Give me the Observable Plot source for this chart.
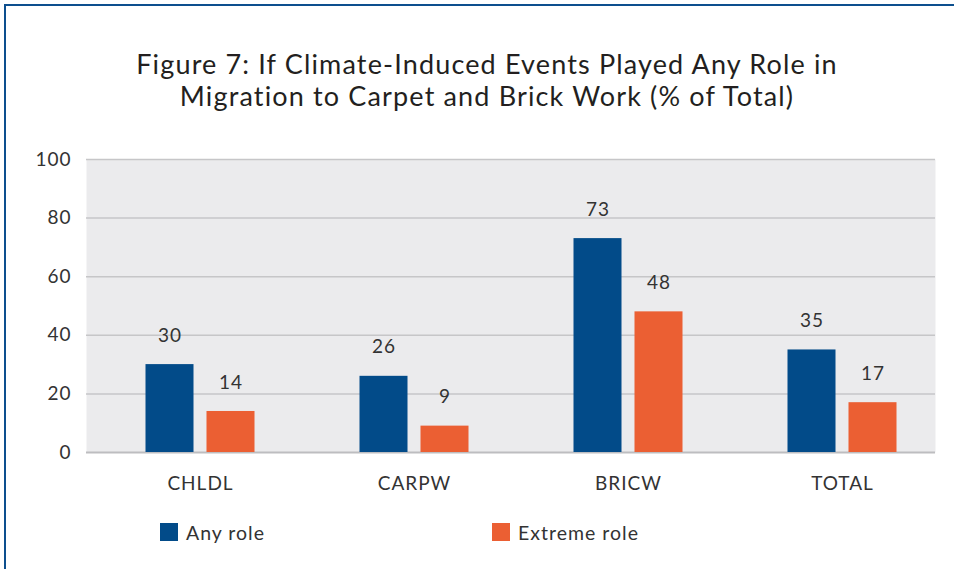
<!DOCTYPE html>
<html>
<head>
<meta charset="utf-8">
<script src="https://cdn.jsdelivr.net/npm/d3@7"></script>
<script src="https://cdn.jsdelivr.net/npm/@observablehq/plot@0.6"></script>
<style>
  html, body { margin: 0; padding: 0; background: #fff; }
  #wrap { position: relative; width: 954px; height: 569px; overflow: hidden; font-family: Lato, "Open Sans", sans-serif; }
  #border { position: absolute; left: 4px; top: 4px; width: 960px; height: 600px; border-top: 2.5px solid #0d4f8e; border-left: 2.5px solid #0d4f8e; }
  #title { position: absolute; left: 0; width: 974px; top: 48px; text-align: center; font-size: 27px; line-height: 32px; letter-spacing: 1.15px; color: #231f20; }
  #chart { position: absolute; left: 0; top: 140px; }
  #legend { position: absolute; top: 520px; left: 0; width: 954px; height: 24px; font-size: 19.5px; letter-spacing: 1px; color: #333; }
  .item { position: absolute; top: 0; display: flex; align-items: center; height: 24px; }
  .sw { width: 18px; height: 18px; margin-right: 8px; }
</style>
</head>
<body>
<div id="wrap">
  <div id="border"></div>
  <div id="title"></div>
  <div id="chart"></div>
  <div id="legend"></div>
</div>
<script>
const titleLines = ["Figure 7: If Climate-Induced Events Played Any Role in", "Migration to Carpet and Brick Work (% of Total)"];
const categories = ["CHLDL", "CARPW", "BRICW", "TOTAL"];
const series = ["Any role", "Extreme role"];
const anyRole = [30, 26, 73, 35];
const extremeRole = [14, 9, 48, 17];
const yTicks = [0, 20, 40, 60, 80, 100];
const colors = ["#024b89", "#eb5f33"];

document.getElementById("title").innerHTML = titleLines.join("<br>");

const anyData = categories.map((c, i) => ({category: c, series: series[0], value: anyRole[i]}));
const extData = categories.map((c, i) => ({category: c, series: series[1], value: extremeRole[i]}));

const chart = Plot.plot({
  width: 954,
  height: 360,
  marginLeft: 86,
  marginRight: 19,
  marginTop: 19,
  marginBottom: 48,
  style: {fontFamily: "Lato, 'Open Sans', sans-serif", fontSize: "19px", color: "#333", background: "transparent", overflow: "visible", letterSpacing: "1px"},
  x: {domain: categories, range: [92.5, 948.5], padding: 0, tickSize: 0, tickPadding: 24, label: null},
  y: {domain: [0, 100], ticks: yTicks, tickSize: 0, tickPadding: 15, label: null},
  color: {domain: series, range: colors},
  marks: [
    Plot.frame({fill: "#ebebed", stroke: null}),
    Plot.ruleY(yTicks.slice(1), {stroke: "#c6c6c8", strokeWidth: 1.5}),
    Plot.ruleY([0], {stroke: "#bdbdc0", strokeWidth: 2}),
    Plot.barY(anyData, {x: "category", y: "value", fill: "series", insetLeft: 52.5, insetRight: 113.5}),
    Plot.barY(extData, {x: "category", y: "value", fill: "series", insetLeft: 113.5, insetRight: 52.5}),
    Plot.text(anyData, {x: "category", y: "value", text: d => String(d.value), dx: -30.5, dy: -29, fontSize: 19, fill: "#333"}),
    Plot.text(extData, {x: "category", y: "value", text: d => String(d.value), dx: 30.5, dy: -29, fontSize: 19, fill: "#333"})
  ]
});
document.getElementById("chart").appendChild(chart);

const legend = document.getElementById("legend");
const legendX = [160, 492];
series.forEach((s, i) => {
  const item = document.createElement("div");
  item.className = "item";
  item.style.left = legendX[i] + "px";
  item.innerHTML = `<span class="sw" style="background:${colors[i]}"></span><span>${s}</span>`;
  legend.appendChild(item);
});
</script>
</body>
</html>
